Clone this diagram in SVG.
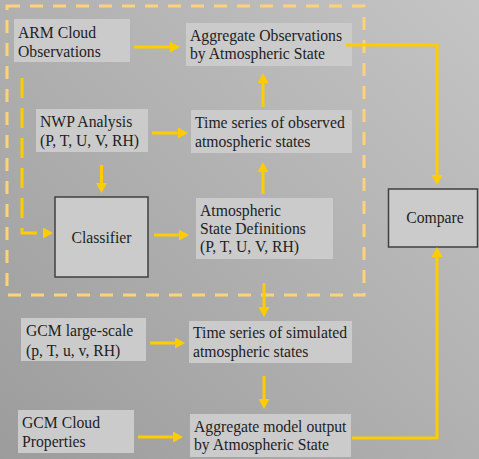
<svg xmlns="http://www.w3.org/2000/svg" width="479" height="459" viewBox="0 0 479 459">
<defs>
<linearGradient id="bg" x1="1" y1="0" x2="0" y2="1">
<stop offset="0" stop-color="#c4c4c4"/>
<stop offset="1" stop-color="#9c9c9c"/>
</linearGradient>
<marker id="ah" markerUnits="userSpaceOnUse" markerWidth="10" markerHeight="11" refX="2" refY="5.5" orient="auto" viewBox="0 0 10 11">
<path d="M0,0 L10,5.5 L0,11 z" fill="#ffcc00"/>
</marker>
<style>
.box{fill:#cbcbcb;stroke:none}
.sbox{fill:#cbcbcb;stroke:#404040;stroke-width:1.5}
text{font-family:"Liberation Serif","Times New Roman",serif;font-size:15.7px;fill:#1e1e1e}
.c{fill:none;stroke:#ffcc00;stroke-width:3;marker-end:url(#ah)}
</style>
</defs>
<rect width="479" height="459" fill="url(#bg)"/>
<rect x="7" y="6" width="357" height="289" fill="none" stroke="#ffd27a" stroke-width="3" stroke-dasharray="13 10"/>
<g id="arm"><rect class="box" x="14" y="19" width="116" height="43"/><text x="18" y="38">ARM Cloud</text><text x="18" y="57">Observations</text></g>
<g id="aggobs"><rect class="box" x="186" y="23" width="166" height="43"/><text x="190" y="41">Aggregate Observations</text><text x="190" y="59">by Atmospheric State</text></g>
<g id="nwp"><rect class="box" x="36" y="109" width="112" height="43"/><text x="40" y="127">NWP Analysis</text><text x="40" y="146">(P, T, U, V, RH)</text></g>
<g id="tsobs"><rect class="box" x="191" y="110" width="161" height="43"/><text x="195" y="128">Time series of observed</text><text x="195" y="147">atmospheric states</text></g>
<g id="classifier"><rect class="sbox" x="55" y="197" width="93" height="80"/><text x="101.5" y="243" text-anchor="middle">Classifier</text></g>
<g id="atmos"><rect class="box" x="196" y="198" width="137" height="61"/><text x="200" y="216">Atmospheric</text><text x="200" y="234">State Definitions</text><text x="200" y="252">(P, T, U, V, RH)</text></g>
<g id="compare"><rect class="sbox" x="388.5" y="189" width="89" height="58"/><text x="435" y="223" text-anchor="middle">Compare</text></g>
<g id="gcmls"><rect class="box" x="21" y="318" width="125" height="43"/><text x="26" y="336">GCM large-scale</text><text x="26" y="356">(p, T, u, v, RH)</text></g>
<g id="tssim"><rect class="box" x="189" y="321" width="163" height="42"/><text x="193" y="338">Time series of simulated</text><text x="193" y="357">atmospheric states</text></g>
<g id="gcmcloud"><rect class="box" x="18" y="410" width="116" height="43"/><text x="22" y="428">GCM Cloud</text><text x="22" y="447">Properties</text></g>
<g id="aggmodel"><rect class="box" x="190" y="414" width="161" height="43"/><text x="194" y="432">Aggregate model output</text><text x="194" y="450">by Atmospheric State</text></g>
<g id="connectors">
<path class="c" d="M134,47 H172"/>
<path class="c" d="M152,133 H180"/>
<path class="c" d="M101.5,165 V185"/>
<path class="c" d="M154,235 H181"/>
<path class="c" d="M263,194 V170"/>
<path class="c" d="M263,107 V81"/>
<path class="c" d="M346,45 H437 V177"/>
<path class="c" d="M352,438 H437 V255"/>
<path class="c" d="M264,283 V309"/>
<path class="c" d="M150,343 H177"/>
<path class="c" d="M264,376 V401"/>
<path class="c" d="M138,437 H175"/>
<path class="c" d="M22,78 V233 H45" stroke-dasharray="20 10"/>
</g>
</svg>
